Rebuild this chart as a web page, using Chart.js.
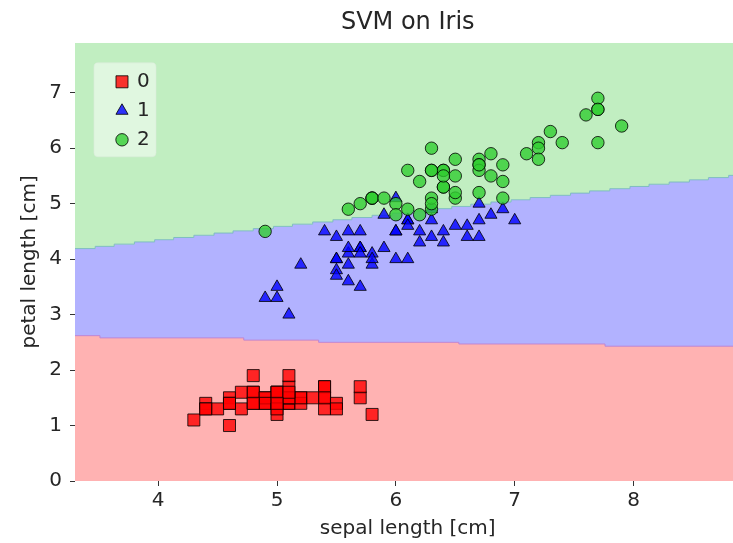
<!DOCTYPE html>
<html><head><meta charset="utf-8">
<script src="https://cdn.jsdelivr.net/npm/chart.js@4/dist/chart.umd.min.js"></script>
<style>
html,body{margin:0;padding:0;background:#fff;overflow:hidden;width:733px;height:543px;}
#wrap{width:750px;height:543px;}
</style></head><body>
<div id="wrap"><canvas id="c" width="750" height="543"></canvas></div>
<script>
// ---- data (sepal length, petal length) per class ----
const class0Sepal = [5.1,4.9,4.7,4.6,5.0,5.4,4.6,5.0,4.4,4.9,5.4,4.8,4.8,4.3,5.8,5.7,5.4,5.1,5.7,5.1,5.4,5.1,4.6,5.1,4.8,5.0,5.0,5.2,5.2,4.7,4.8,5.4,5.2,5.5,4.9,5.0,5.5,4.9,4.4,5.1,5.0,4.5,4.4,5.0,5.1,4.8,5.1,4.6,5.3,5.0];
const class0Petal = [1.4,1.4,1.3,1.5,1.4,1.7,1.4,1.5,1.4,1.5,1.5,1.6,1.4,1.1,1.2,1.5,1.3,1.4,1.7,1.5,1.7,1.5,1.0,1.7,1.9,1.6,1.6,1.5,1.4,1.6,1.6,1.5,1.5,1.4,1.5,1.2,1.3,1.4,1.3,1.5,1.3,1.3,1.3,1.6,1.9,1.4,1.6,1.4,1.5,1.4];
const class1Sepal = [7.0,6.4,6.9,5.5,6.5,5.7,6.3,4.9,6.6,5.2,5.0,5.9,6.0,6.1,5.6,6.7,5.6,5.8,6.2,5.6,5.9,6.1,6.3,6.1,6.4,6.6,6.8,6.7,6.0,5.7,5.5,5.5,5.8,6.0,5.4,6.0,6.7,6.3,5.6,5.5,5.5,6.1,5.8,5.0,5.6,5.7,5.7,6.2,5.1,5.7];
const class1Petal = [4.7,4.5,4.9,4.0,4.6,4.5,4.7,3.3,4.6,3.9,3.5,4.2,4.0,4.7,3.6,4.4,4.5,4.1,4.5,3.9,4.8,4.0,4.9,4.7,4.3,4.4,4.8,5.0,4.5,3.5,3.8,3.7,3.9,5.1,4.5,4.5,4.7,4.4,4.1,4.0,4.4,4.6,4.0,3.3,4.2,4.2,4.2,4.3,3.0,4.1];
const class2Sepal = [6.3,5.8,7.1,6.3,6.5,7.6,4.9,7.3,6.7,7.2,6.5,6.4,6.8,5.7,5.8,6.4,6.5,7.7,7.7,6.0,6.9,5.6,7.7,6.3,6.7,7.2,6.2,6.1,6.4,7.2,7.4,7.9,6.4,6.3,6.1,7.7,6.3,6.4,6.0,6.9,6.7,6.9,5.8,6.8,6.7,6.7,6.3,6.5,6.2,5.9];
const class2Petal = [6.0,5.1,5.9,5.6,5.8,6.6,4.5,6.3,5.8,6.1,5.1,5.3,5.5,5.0,5.1,5.3,5.5,6.7,6.9,5.0,5.7,4.9,6.7,4.9,5.7,6.0,4.8,4.9,5.6,5.8,6.1,6.4,5.6,5.1,5.6,6.1,5.6,5.5,4.8,5.4,5.6,5.1,5.1,5.9,5.7,5.2,5.0,5.2,5.4,5.1];

// decision boundaries (step starts)
const boundary01X = [3.3, 3.51, 4.72, 5.35, 6.53, 7.76, 8.9];
const boundary01Y = [2.62, 2.58, 2.54, 2.50, 2.47, 2.43, 2.43];
const boundary12X = [3.30,3.47,3.63,3.80,3.97,4.13,4.30,4.47,4.63,4.80,4.97,5.13,5.30,5.47,5.63,5.80,5.97,6.13,6.30,6.47,6.63,6.80,6.97,7.13,7.30,7.47,7.63,7.80,7.97,8.13,8.30,8.47,8.63,8.80,8.90];
const boundary12Y = [4.19,4.23,4.27,4.31,4.35,4.39,4.43,4.47,4.51,4.55,4.59,4.63,4.67,4.71,4.75,4.79,4.83,4.87,4.91,4.95,4.99,5.03,5.07,5.11,5.15,5.19,5.23,5.27,5.31,5.35,5.39,5.43,5.47,5.51,5.51];

const classLabels = ['0','1','2'];
const xTicks = [4,5,6,7,8];
const yTicks = [0,1,2,3,4,5,6,7];

const pts = (xs, ys) => xs.map((x, i) => ({x: x, y: ys[i]}));
const FONT = 'DejaVu Sans';
const TXT = '#262626';

const markerStyles = [
  {pointStyle: 'rect', radius: 8.5, bg: 'rgba(255,0,0,0.8)'},
  {pointStyle: 'triangle', radius: 7.0, bg: 'rgba(0,0,255,0.8)'},
  {pointStyle: 'circle', radius: 6.2, bg: 'rgba(50,205,50,0.8)'}
];

const legendPlugin = {
  id: 'innerLegend',
  afterDraw(chart) {
    const ctx = chart.ctx;
    const ca = chart.chartArea;
    const bx = ca.left + 19, by = ca.top + 20, bw = 62, bh = 94;
    ctx.save();
    ctx.beginPath();
    ctx.roundRect(bx, by, bw, bh, 4);
    ctx.fillStyle = 'rgba(255,255,255,0.5)';
    ctx.fill();
    ctx.strokeStyle = 'rgba(220,235,220,0.6)';
    ctx.lineWidth = 1;
    ctx.stroke();
    const ys = [by + 19, by + 48, by + 77];
    markerStyles.forEach((m, i) => {
      ctx.fillStyle = m.bg;
      ctx.strokeStyle = 'rgba(0,0,0,0.8)';
      ctx.lineWidth = 1;
      Chart.helpers.drawPoint(ctx, {pointStyle: m.pointStyle, radius: m.radius, rotation: 0, borderWidth: 1}, bx + 28, ys[i]);
      ctx.fillStyle = TXT;
      ctx.font = '20px "' + FONT + '"';
      ctx.textBaseline = 'middle';
      ctx.textAlign = 'left';
      ctx.fillText(classLabels[i], bx + 43, ys[i]);
    });
    ctx.restore();
  }
};

const scatterSet = (i, xs, ys, order) => ({
  type: 'scatter',
  label: classLabels[i],
  data: pts(xs, ys),
  pointStyle: markerStyles[i].pointStyle,
  pointRadius: markerStyles[i].radius,
  pointHoverRadius: markerStyles[i].radius,
  backgroundColor: markerStyles[i].bg,
  borderColor: 'rgba(0,0,0,0.8)',
  borderWidth: 1,
  order: order
});

new Chart(document.getElementById('c'), {
  type: 'scatter',
  data: {
    datasets: [
      {type: 'line', data: pts(boundary12X, boundary12Y), stepped: true, pointRadius: 0, borderWidth: 0,
       borderColor: 'rgba(0,0,0,0)', backgroundColor: 'rgb(178,178,255)', fill: 'start', order: 12},
      {type: 'line', data: pts(boundary12X, boundary12Y), stepped: true, pointRadius: 0, borderWidth: 1,
       borderColor: 'rgba(120,185,190,0.9)', backgroundColor: 'rgb(193,238,193)', fill: 'end', order: 11},
      {type: 'line', data: pts(boundary01X, boundary01Y), stepped: true, pointRadius: 0, borderWidth: 1,
       borderColor: 'rgba(190,130,210,0.9)', backgroundColor: 'rgb(255,178,178)', fill: 'start', order: 10},
      scatterSet(0, class0Sepal, class0Petal, 3),
      scatterSet(1, class1Sepal, class1Petal, 2),
      scatterSet(2, class2Sepal, class2Petal, 1)
    ]
  },
  options: {
    responsive: false,
    animation: false,
    devicePixelRatio: 1,
    events: [],
    layout: {padding: {left: 0, right: 2, top: 0, bottom: 0}},
    plugins: {
      legend: {display: false},
      tooltip: {enabled: false},
      title: {display: true, text: 'SVM on Iris', fullSize: false, color: TXT,
        font: {family: FONT, size: 24, weight: 'normal'}, padding: {top: 8, bottom: 6}}
    },
    scales: {
      x: {
        type: 'linear', min: 3.3, max: 8.9,
        afterBuildTicks: s => { s.ticks = xTicks.map(v => ({value: v})); },
        afterFit: s => { s.height = 62; },
        grid: {drawOnChartArea: false, drawTicks: true, tickLength: 5, color: '#333', lineWidth: 1},
        border: {display: false},
        ticks: {color: TXT, font: {family: FONT, size: 20}, padding: 3, maxRotation: 0},
        title: {display: true, text: 'sepal length [cm]', color: TXT, font: {family: FONT, size: 20}, padding: {top: 0, bottom: 2}}
      },
      y: {
        type: 'linear', min: 0, max: 7.9,
        afterBuildTicks: s => { s.ticks = yTicks.map(v => ({value: v})); },
        afterFit: s => { s.width = 75; },
        grid: {drawOnChartArea: false, drawTicks: true, tickLength: 5, color: '#333', lineWidth: 1},
        border: {display: false},
        ticks: {color: TXT, font: {family: FONT, size: 20}, padding: 8},
        title: {display: true, text: 'petal length [cm]', color: TXT, font: {family: FONT, size: 20}, padding: {top: 18, bottom: 0}}
      }
    }
  },
  plugins: [legendPlugin]
});
</script>
</body></html>
